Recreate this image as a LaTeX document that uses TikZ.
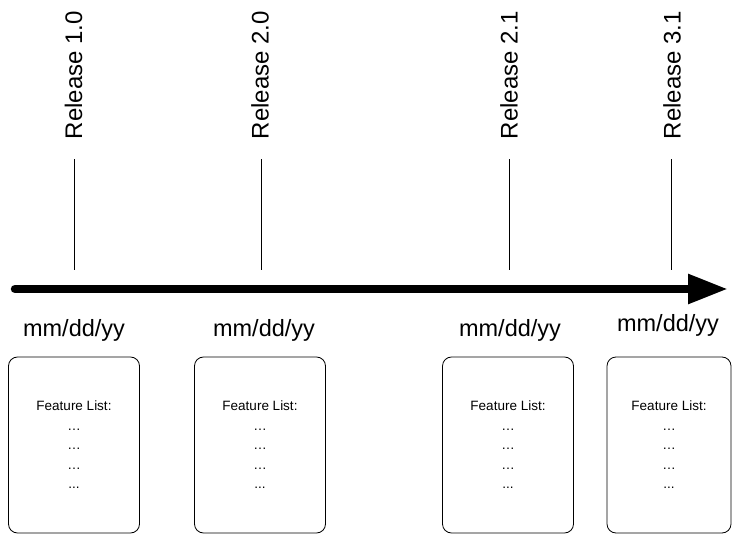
\documentclass[tikz,border=0pt]{standalone}
\usepackage{fontspec}
\setmainfont{Liberation Sans}
\usetikzlibrary{arrows.meta}
\begin{document}
\begin{tikzpicture}[
    x=1pt, y=-1pt,
    release/.style={rotate=90, inner sep=0pt, font=\fontsize{24}{27}\selectfont},
    date/.style={inner sep=0pt, font=\fontsize{23.5}{26}\selectfont},
    featbox/.style={draw, line width=0.8pt, rounded corners=9pt, inner sep=0pt,
      minimum width=131pt, minimum height=176pt, align=center,
      font=\fontsize{13.5}{19.5}\selectfont},
    tick/.style={line width=0.8pt},
  ]
    \useasboundingbox (0,0) rectangle (733,534);
    % timeline
    \coordinate (start) at (15,289);
    \coordinate (end) at (728,289);
    \draw[line width=8.5pt, line cap=round,
      -{Triangle[length=40pt, width=28pt]}] (start) -- (end);
    % releases
    \node[release] (r1) at (73.5,75) {Release 1.0};
    \node[release] (r2) at (260,75) {Release 2.0};
    \node[release] (r3) at (509,75) {Release 2.1};
    \node[release] (r4) at (672,75) {Release 3.1};
    \coordinate (t1) at (74,270);
    \coordinate (t2) at (261,270);
    \coordinate (t3) at (509,270);
    \coordinate (t4) at (671,270);
    \draw[tick] ([yshift=-20pt]r1.west -| t1) -- (t1);
    \draw[tick] ([yshift=-20pt]r2.west -| t2) -- (t2);
    \draw[tick] ([yshift=-20pt]r3.west -| t3) -- (t3);
    \draw[tick] ([yshift=-20pt]r4.west -| t4) -- (t4);
    % dates
    \node[date] (d1) at (74,330) {mm/dd/yy};
    \node[date] (d2) at (264,330) {mm/dd/yy};
    \node[date] (d3) at (510,330) {mm/dd/yy};
    \node[date] (d4) at (668,325) {mm/dd/yy};
    % feature lists
    \node[featbox] (f1) at (74,445) {Feature List:\\ … \\ … \\ … \\ ...};
    \node[featbox] (f2) at (260,445) {Feature List:\\ … \\ … \\ … \\ ...};
    \node[featbox] (f3) at (508,445) {Feature List:\\ … \\ … \\ … \\ ...};
    \node[featbox, minimum width=124pt] (f4) at (669,445)
      {Feature List:\\ … \\ … \\ … \\ ...};
  \end{tikzpicture}
\end{document}
